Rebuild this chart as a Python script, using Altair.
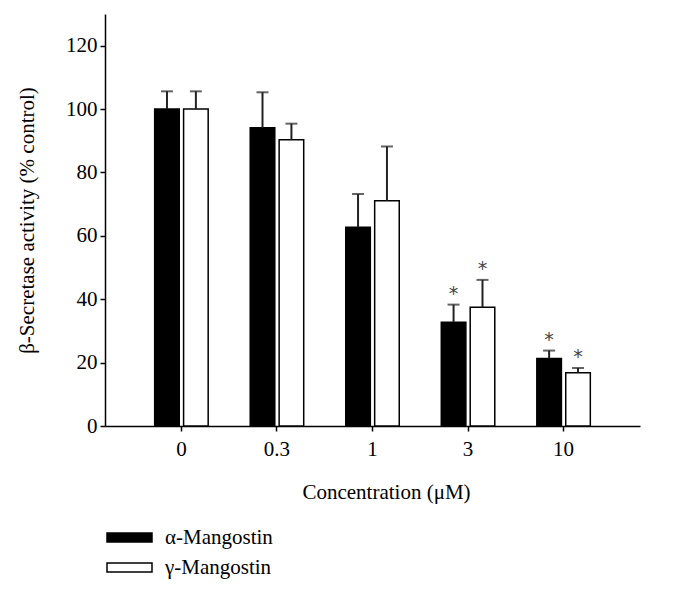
import altair as alt
import pandas as pd

conc = ["0", "0.3", "1", "3", "10"]
groups = ["α-Mangostin", "γ-Mangostin"]
alpha_mean = [100, 94.1, 62.7, 32.7, 21.3]
alpha_upper = [105.6, 105.3, 73.2, 38.3, 23.8]
gamma_mean = [100, 90.3, 71.1, 37.5, 16.8]
gamma_upper = [105.6, 95.4, 88.2, 46.1, 18.3]
alpha_star = ["", "", "", "*", "*"]
gamma_star = ["", "", "", "*", "*"]

rows = []
for i, c in enumerate(conc):
    rows.append(dict(conc=c, group=groups[0], mean=alpha_mean[i], upper=alpha_upper[i], star=alpha_star[i]))
    rows.append(dict(conc=c, group=groups[1], mean=gamma_mean[i], upper=gamma_upper[i], star=gamma_star[i]))
df = pd.DataFrame(rows)

FONT = "Liberation Serif"
FS = 21

x = alt.X("conc:N", sort=conc,
          scale=alt.Scale(paddingInner=0.44, paddingOuter=0.52),
          axis=alt.Axis(title="Concentration (μM)", labelAngle=0, labelFontSize=FS,
                        labelFont=FONT, labelColor="black", titleFont=FONT,
                        titleFontSize=FS, titleFontWeight="normal", titleColor="black",
                        titlePadding=22, titleX=281, tickSize=5, tickWidth=1.5,
                        tickColor="black", domainColor="black", domainWidth=1.5,
                        labelPadding=7))
xo = alt.XOffset("group:N", sort=groups, scale=alt.Scale(paddingInner=0.15))
y = alt.Y("mean:Q",
          scale=alt.Scale(domain=[0, 130], nice=False),
          axis=alt.Axis(title="β-Secretase activity (% control)",
                        values=list(range(0, 130, 10)),
                        labelExpr="datum.value % 20 == 0 ? datum.label : ''",
                        tickSize=alt.condition("datum.value % 20 == 0", alt.value(5), alt.value(3)),
                        tickWidth=1.5, tickColor="black", domainColor="black",
                        domainWidth=1.5, labelFontSize=FS, labelFont=FONT,
                        labelColor="black", labelPadding=3, titleFont=FONT,
                        titleFontSize=FS, titleFontWeight="normal",
                        titleColor="black", titlePadding=28, grid=False))

base = alt.Chart(df)

bars = base.mark_bar(stroke="black", strokeWidth=1.5).encode(
    x=x, xOffset=xo, y=y,
    fill=alt.Fill("group:N", sort=groups,
                  scale=alt.Scale(domain=groups, range=["black", "white"]),
                  legend=alt.Legend(title=None, orient="none", legendX=14, legendY=513,
                                    symbolType="M-2.5,-0.5H2.5V0.5H-2.5Z", symbolSize=324,
                                    symbolStrokeColor="black", symbolStrokeWidth=1.5,
                                    labelFont=FONT, labelFontSize=FS, labelColor="black",
                                    labelOffset=25, rowPadding=8)),
)

rules = base.mark_rule(color="#222", strokeWidth=2).encode(
    x=x, xOffset=xo, y="mean:Q", y2="upper:Q")

caps = base.mark_tick(color="#222", thickness=2, size=12, orient="horizontal").encode(
    x=x, xOffset=xo, y="upper:Q")

stars = base.mark_text(fontSize=19, font="DejaVu Sans", color="#444", dy=-1,
                       baseline="bottom").encode(
    x=x, xOffset=xo, y="upper:Q", text="star:N")

chart = alt.layer(bars, rules, caps, stars).properties(
    width=535, height=412,
    autosize=alt.AutoSizeParams(type="none"),
    padding={"left": 97, "top": 6, "right": 44, "bottom": 160},
).configure(background="white").configure_view(stroke=None, strokeWidth=0)

chart.save("out.html", embed_options={"renderer": "svg", "actions": False})
